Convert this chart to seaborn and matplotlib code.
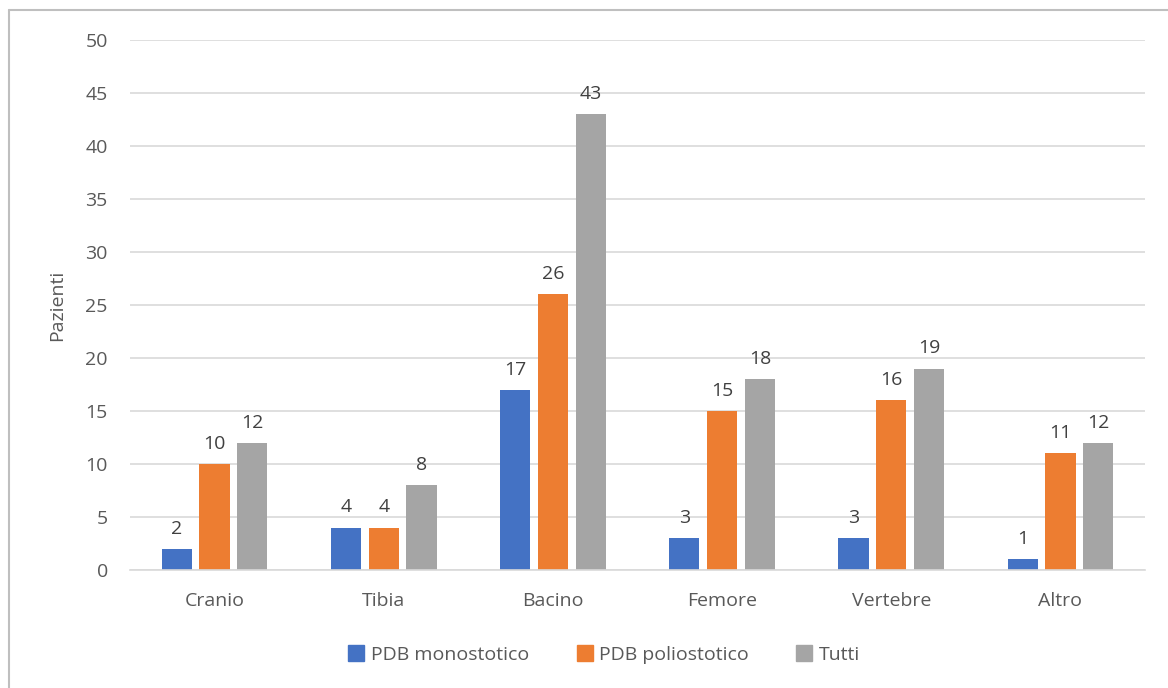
import matplotlib
matplotlib.use('Agg')
import matplotlib.pyplot as plt
import pandas as pd
import seaborn as sns
from matplotlib.lines import Line2D

sns.set_style('white')
plt.rcParams['font.family'] = ['Open Sans', 'DejaVu Sans']

categories = ['Cranio', 'Tibia', 'Bacino', 'Femore', 'Vertebre', 'Altro']
series = ['PDB monostotico', 'PDB poliostotico', 'Tutti']
monostotico = [2, 4, 17, 3, 3, 1]
poliostotico = [10, 4, 26, 15, 16, 11]
tutti = [12, 8, 43, 18, 19, 12]
colors = ['#4472C4', '#ED7D31', '#A5A5A5']

df = pd.DataFrame({
    'Sede': categories * 3,
    'Serie': [s for s in series for _ in categories],
    'Pazienti': monostotico + poliostotico + tutti,
})

text_col = '#595959'
fs = 14
fig = plt.figure(figsize=(11.68, 6.88), dpi=100)
ax = fig.add_axes([0.1113, 0.1715, 0.8690, 0.7704])
sns.barplot(data=df, x='Sede', y='Pazienti', hue='Serie', hue_order=series,
            palette=colors, width=0.67, gap=0.2, saturation=1, ax=ax,
            legend=False, errorbar=None, linewidth=0)

for cont in ax.containers:
    ax.bar_label(cont, padding=8, fontsize=fs, color='#404040')

ax.set_ylim(0, 50)
ax.set_yticks(range(0, 51, 5))
ax.yaxis.grid(True, color='#D9D9D9', linewidth=1.2)
ax.set_axisbelow(True)
for side in ['top', 'right', 'left']:
    ax.spines[side].set_visible(False)
ax.spines['bottom'].set_color('#D9D9D9')
ax.spines['bottom'].set_linewidth(1.2)
ax.tick_params(axis='both', length=0, labelsize=fs, labelcolor=text_col)
ax.tick_params(axis='x', pad=16)
ax.tick_params(axis='y', pad=16)
ax.set_xlabel('')
ax.set_ylabel('Pazienti', fontsize=fs, color=text_col, labelpad=14)

handles = [Line2D([], [], marker='s', linestyle='', markersize=11,
                  markerfacecolor=c, markeredgecolor=c) for c in colors]
fig.legend(handles, series, loc='center', bbox_to_anchor=(0.517, 0.048),
           ncol=3, frameon=False, fontsize=fs, labelcolor=text_col,
           handletextpad=0.3, columnspacing=2.4, handlelength=0.9)

# outer border (only left and top visible in reference)
fig.add_artist(Line2D([0.0077, 0.0077], [0, 0.986], color='#BFBFBF', linewidth=1.5))
fig.add_artist(Line2D([0.0077, 1], [0.986, 0.986], color='#BFBFBF', linewidth=1.5))

fig.savefig('out.png', dpi=100)
